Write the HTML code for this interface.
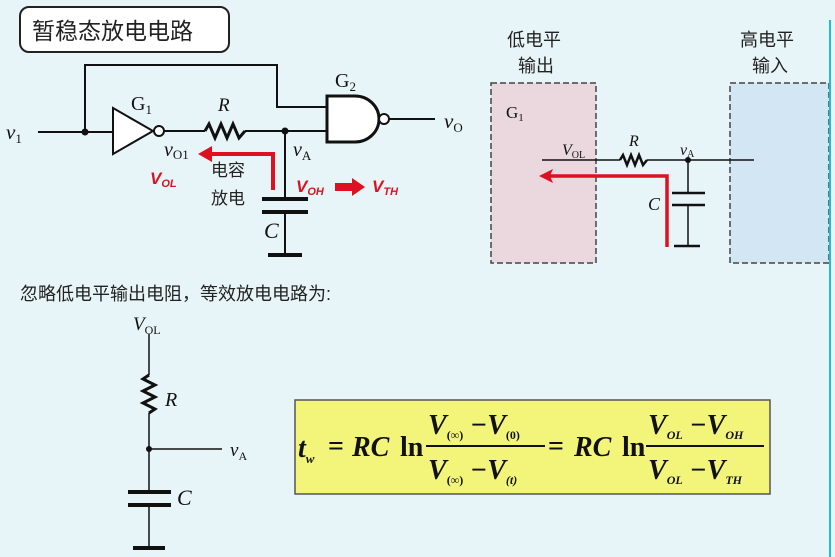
<!DOCTYPE html>
<html><head><meta charset="utf-8"><style>
body{margin:0;width:835px;height:557px;background:#e8f5f8;overflow:hidden}
svg{display:block}
text{font-family:"Liberation Serif","Noto Serif CJK SC",serif}
.cn{font-family:"Liberation Sans","Noto Sans CJK SC",sans-serif}
.rd{font-family:"Liberation Sans",sans-serif}
</style></head><body>
<svg width="835" height="557" viewBox="0 0 835 557">
<rect x="0" y="0" width="835" height="557" fill="#e8f5f8"/>
<rect x="20" y="7" width="209" height="45" rx="9" fill="#fff" stroke="#222" stroke-width="2"/>
<text x="32" y="39" class="cn" font-size="23" fill="#222">暂稳态放电电路</text>
<g stroke="#111" stroke-width="2" fill="none">
<line x1="38" y1="132" x2="113" y2="132"/>
<polyline points="85,132 85,65 277,65 277,107 327,107"/>
<polygon points="113,108 113,154 153,131" fill="#fff"/>
<circle cx="159" cy="131" r="5" fill="#fff"/>
<line x1="164" y1="131" x2="205" y2="131"/>
<polyline points="205,131 209,124 215,138 221,124 227,138 233,124 239,138 245,131" stroke-width="3"/>
<line x1="245" y1="131" x2="327" y2="131"/>
<path d="M327,96 L355,96 A24,23 0 0 1 355,142 L327,142 Z" fill="#fff" stroke-width="3"/>
<circle cx="384" cy="119" r="5" fill="#fff"/>
<line x1="389" y1="119" x2="435" y2="119"/>
<line x1="285" y1="131" x2="285" y2="198"/>
<line x1="262" y1="199" x2="308" y2="199" stroke-width="4"/>
<line x1="262" y1="212" x2="308" y2="212" stroke-width="4"/>
<line x1="285" y1="212" x2="285" y2="254"/>
<line x1="268" y1="255" x2="302" y2="255" stroke-width="4"/>
</g>
<circle cx="85" cy="132" r="3.5" fill="#111"/>
<circle cx="285" cy="131" r="3.5" fill="#111"/>
<text x="6" y="139" font-size="21" font-style="italic" fill="#111">v<tspan font-size="13" font-style="normal" dy="4">1</tspan></text>
<text x="131" y="110" font-size="20" fill="#111">G<tspan font-size="13" dy="4">1</tspan></text>
<text x="335" y="87" font-size="20" fill="#111">G<tspan font-size="13" dy="4">2</tspan></text>
<text x="218" y="111" font-size="19" font-style="italic" fill="#111">R</text>
<text x="444" y="128" font-size="21" font-style="italic" fill="#111">v<tspan font-size="13" font-style="normal" dy="4">O</tspan></text>
<text x="164" y="156" font-size="20" font-style="italic" fill="#111">v<tspan font-size="13" font-style="normal" dy="3">O1</tspan></text>
<text x="293" y="156" font-size="20" font-style="italic" fill="#111">v<tspan font-size="13" font-style="normal" dy="4">A</tspan></text>
<text x="264" y="238" font-size="22" font-style="italic" fill="#111">C</text>
<text x="211" y="176" class="cn" font-size="17" fill="#222">电容</text>
<text x="211" y="204" class="cn" font-size="17" fill="#222">放电</text>
<g font-weight="bold" font-style="italic" fill="#dd1122">
<text class="rd" x="150" y="184" font-size="17">V<tspan font-size="11" dy="3">OL</tspan></text>
<text class="rd" x="296" y="192" font-size="17">V<tspan font-size="11" dy="3">OH</tspan></text>
<text class="rd" x="372" y="192" font-size="17">V<tspan font-size="11" dy="3">TH</tspan></text>
</g>
<polygon points="335,183 352,183 352,178 365,187 352,196 352,191 335,191" fill="#dd1122"/>
<polyline points="273,190 273,154 206,154" fill="none" stroke="#dd1122" stroke-width="4"/>
<polygon points="198,154 212,146 212,162" fill="#dd1122"/>
<text x="507" y="46" class="cn" font-size="18" fill="#222">低电平</text>
<text x="518" y="72" class="cn" font-size="18" fill="#222">输出</text>
<text x="740" y="46" class="cn" font-size="18" fill="#222">高电平</text>
<text x="752" y="72" class="cn" font-size="18" fill="#222">输入</text>
<rect x="491" y="83" width="105" height="180" fill="#ead8de" stroke="#444" stroke-width="1.5" stroke-dasharray="6,3"/>
<rect x="730" y="83" width="99" height="180" fill="#d2e6f4" stroke="#444" stroke-width="1.5" stroke-dasharray="6,3"/>
<text x="506" y="118" font-size="17" fill="#111">G<tspan font-size="11" dy="3">1</tspan></text>
<text x="562" y="155" font-size="16" font-style="italic" fill="#111">V<tspan font-size="10" font-style="normal" dy="3">OL</tspan></text>
<text x="629" y="146" font-size="16" font-style="italic" fill="#111">R</text>
<text x="680" y="155" font-size="16" font-style="italic" fill="#111">v<tspan font-size="10" font-style="normal" dy="2">A</tspan></text>
<text x="648" y="210" font-size="18" font-style="italic" fill="#111">C</text>
<g stroke="#111" fill="none" stroke-width="1.5">
<line x1="542" y1="160" x2="620" y2="160"/>
<polyline points="620,160 623,155 627,165 631,155 635,165 639,155 643,165 647,160" stroke-width="2.5"/>
<line x1="647" y1="160" x2="754" y2="160"/>
<line x1="688" y1="160" x2="688" y2="193"/>
<line x1="672" y1="193" x2="705" y2="193" stroke-width="2.5"/>
<line x1="672" y1="205" x2="705" y2="205" stroke-width="2.5"/>
<line x1="688" y1="205" x2="688" y2="246"/>
<line x1="674" y1="246" x2="700" y2="246" stroke-width="2.5"/>
</g>
<circle cx="688" cy="160" r="3" fill="#111"/>
<polyline points="667,247 667,176 548,176" fill="none" stroke="#dd1122" stroke-width="3.5"/>
<polygon points="539,176 553,169 550,176 553,183" fill="#dd1122"/>
<line x1="830" y1="20" x2="830" y2="557" stroke="#1ac0d0" stroke-width="2"/>
<text x="20" y="300" class="cn" font-size="18" fill="#222">忽略低电平输出电阻，等效放电电路为:</text>
<text x="133" y="330" font-size="19" font-style="italic" fill="#111">V<tspan font-size="12" font-style="normal" dy="4">OL</tspan></text>
<g stroke="#111" fill="none" stroke-width="1.5">
<line x1="149" y1="334" x2="149" y2="375"/>
<polyline points="149,375 143,379 155,385 143,391 155,397 143,403 155,409 149,413" stroke-width="3"/>
<line x1="149" y1="413" x2="149" y2="492"/>
<line x1="149" y1="449" x2="222" y2="449"/>
<line x1="128" y1="492" x2="171" y2="492" stroke-width="4"/>
<line x1="128" y1="505" x2="171" y2="505" stroke-width="4"/>
<line x1="149" y1="505" x2="149" y2="548"/>
<line x1="133" y1="548" x2="165" y2="548" stroke-width="4"/>
</g>
<circle cx="149" cy="449" r="3" fill="#111"/>
<text x="165" y="406" font-size="20" font-style="italic" fill="#111">R</text>
<text x="230" y="456" font-size="19" font-style="italic" fill="#111">v<tspan font-size="12" font-style="normal" dy="4">A</tspan></text>
<text x="177" y="505" font-size="22" font-style="italic" fill="#111">C</text>
<rect x="295" y="400" width="475" height="94" fill="#f3f57a" stroke="#555" stroke-width="1.5"/>
<g font-weight="bold" fill="#111" font-size="28">
<text x="298" y="457" font-style="italic">t<tspan font-size="13" dy="6">w</tspan></text>
<text x="328" y="455">=</text>
<text x="352" y="456" font-style="italic">RC</text>
<text x="400" y="456">ln</text>
<line x1="426" y1="446" x2="545" y2="446" stroke="#111" stroke-width="2"/>
<text x="428" y="434" font-style="italic">V<tspan font-size="12" font-style="normal" dy="5">(∞)</tspan><tspan dy="-5"> −</tspan>V<tspan font-size="12" font-style="normal" dy="5">(0)</tspan></text>
<text x="428" y="479" font-style="italic">V<tspan font-size="12" font-style="normal" dy="5">(∞)</tspan><tspan dy="-5"> −</tspan>V<tspan font-size="12" font-style="italic" dy="5">(t)</tspan></text>
<text x="548" y="455">=</text>
<text x="574" y="456" font-style="italic">RC</text>
<text x="622" y="456">ln</text>
<line x1="646" y1="446" x2="764" y2="446" stroke="#111" stroke-width="2"/>
<text x="648" y="434" font-style="italic">V<tspan font-size="12" dy="5">OL</tspan><tspan dy="-5"> −</tspan>V<tspan font-size="12" dy="5">OH</tspan></text>
<text x="648" y="479" font-style="italic">V<tspan font-size="12" dy="5">OL</tspan><tspan dy="-5"> −</tspan>V<tspan font-size="12" dy="5">TH</tspan></text>
</g>
</svg>
</body></html>
